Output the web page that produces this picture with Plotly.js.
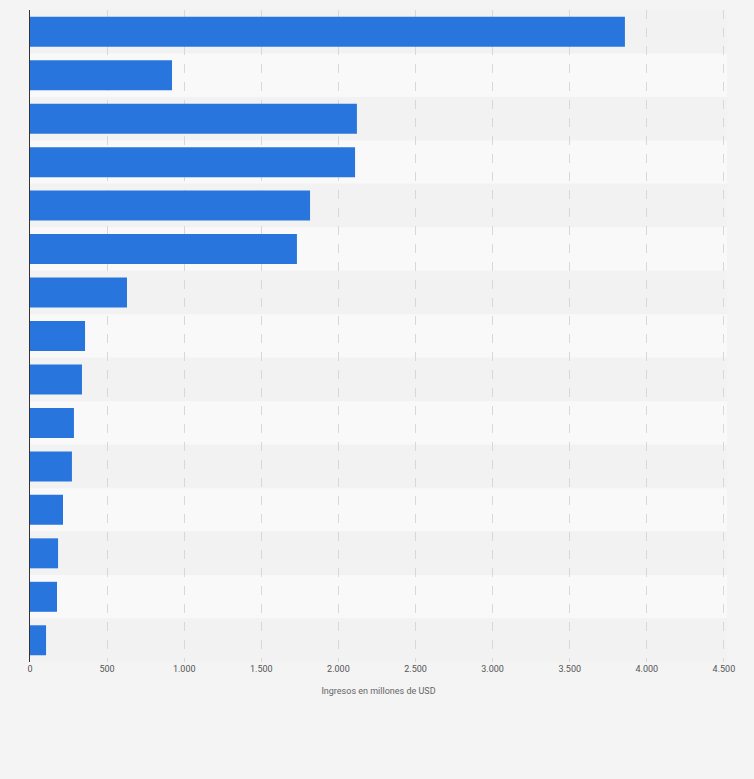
<!DOCTYPE html>
<html><head><meta charset="utf-8">
<script src="https://cdn.plot.ly/plotly-3.0.1.min.js"></script>
<style>body{margin:0;background:#f4f4f4}</style>
</head><body><div id="c" style="width:754px;height:779px"></div>
<script>
const rows = [0,1,2,3,4,5,6,7,8,9,10,11,12,13,14];
const values = [3858,921,2120,2108,1816,1731,629,357,337,285,272,214,182,175,104];
const tickVals = [0,500,1000,1500,2000,2500,3000,3500,4000,4500];

const shapes = rows.map(i => ({
  type:'rect', xref:'paper', yref:'y', x0:0, x1:1, y0:i-0.5, y1:i+0.5,
  fillcolor: i%2===0 ? '#f2f2f2' : '#f9f9f9', line:{width:0}, layer:'below'
}));

Plotly.newPlot('c',[{
  type:'bar', orientation:'h', x:values, y:rows, width:0.69,
  marker:{color:'#2876dd'}, hoverinfo:'x'
}],{
  width:754, height:779,
  paper_bgcolor:'#f4f4f4', plot_bgcolor:'#f4f4f4',
  margin:{l:30,r:27,t:10,b:117},
  separators:',.',
  shapes:shapes,
  xaxis:{range:[0,4520], tickvals:tickVals, tickformat:',d', showgrid:true,
    gridcolor:'#d8d8d8', griddash:'dash', zeroline:false,
    tickfont:{family:'Roboto, Arial',size:9,color:'#555'},
    title:{text:'Ingresos en millones de USD', font:{family:'Roboto, Arial',size:9,color:'#666'}, standoff:14}},
  yaxis:{range:[14.5,-0.5], showticklabels:false, showgrid:false, zeroline:false,
    showline:true, linecolor:'#333', linewidth:1},
  showlegend:false
},{displayModeBar:false});
</script></body></html>
